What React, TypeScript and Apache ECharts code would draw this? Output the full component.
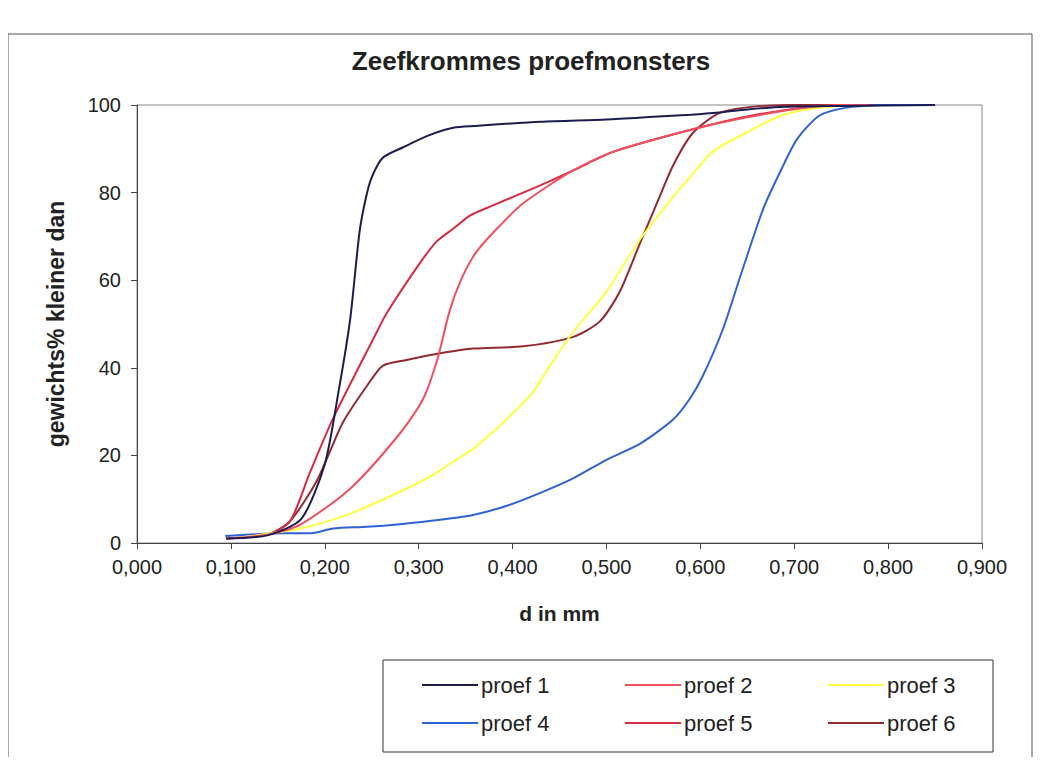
import React, { useEffect, useRef } from "react";
import * as echarts from "echarts";

const seriesNames = ["proef 1", "proef 2", "proef 3", "proef 4", "proef 5", "proef 6"];
const seriesColors = ["#1c1c50", "#f2505e", "#ffff40", "#2f62d4", "#d82a40", "#922a30"];

const proef1: number[][] = [
  [0.095, 1], [0.14, 1.8], [0.175, 5.5], [0.2, 18], [0.215, 35], [0.227, 51], [0.237, 71],
  [0.244, 79], [0.25, 83.5], [0.262, 88], [0.283, 90.3], [0.31, 93], [0.337, 94.8],
  [0.36, 95.2], [0.43, 96.2], [0.5, 96.7], [0.55, 97.3], [0.59, 97.8], [0.62, 98.3],
  [0.65, 99], [0.69, 99.6], [0.75, 99.8], [0.85, 100],
];
const proef2: number[][] = [
  [0.095, 1], [0.142, 2], [0.174, 4.2], [0.227, 12.4], [0.28, 25], [0.305, 33],
  [0.32, 42], [0.333, 53], [0.345, 60], [0.36, 66], [0.38, 71], [0.411, 77.5], [0.464, 85],
  [0.507, 89.3], [0.589, 94.3], [0.65, 97.2], [0.72, 99.6], [0.78, 100.3],
];
const proef3: number[][] = [
  [0.1, 1], [0.174, 3.3], [0.227, 6.7], [0.28, 11.7], [0.315, 15.5], [0.333, 18.1],
  [0.358, 21.5], [0.387, 26.9], [0.419, 33.7], [0.44, 40.5], [0.464, 48], [0.5, 57.4],
  [0.536, 69.4], [0.571, 79], [0.589, 83.5], [0.613, 89.3], [0.65, 93.8], [0.685, 97.5],
  [0.72, 99.2], [0.773, 100.3],
];
const proef4: number[][] = [
  [0.094, 1.6], [0.156, 2.2], [0.184, 2.2], [0.209, 3.3], [0.245, 3.7], [0.28, 4.3],
  [0.323, 5.3], [0.358, 6.4], [0.394, 8.5], [0.429, 11.4], [0.464, 14.7], [0.5, 19],
  [0.536, 22.7], [0.571, 28.2], [0.589, 33], [0.603, 38.3], [0.624, 48.8], [0.642, 60.5],
  [0.667, 76.3], [0.685, 84.7], [0.703, 92.2], [0.727, 97.6], [0.756, 99.4], [0.791, 100],
  [0.845, 100.2],
];
const proef5: number[][] = [
  [0.095, 1], [0.14, 2], [0.163, 5], [0.184, 16], [0.209, 28.5], [0.256, 48.4],
  [0.266, 52.5], [0.3, 63.5], [0.319, 68.8], [0.337, 71.8], [0.355, 74.8], [0.376, 76.8],
  [0.429, 81.6], [0.464, 85], [0.507, 89.3], [0.589, 94.3], [0.65, 97.4], [0.72, 99.6],
  [0.8, 100.3],
];
const proef6: number[][] = [
  [0.095, 1], [0.14, 2], [0.163, 5], [0.192, 14.4], [0.219, 27.4], [0.245, 35.9],
  [0.262, 40.5], [0.287, 41.8], [0.323, 43.3], [0.358, 44.4], [0.411, 44.9], [0.464, 47],
  [0.493, 50.6], [0.514, 57.3], [0.536, 68.6], [0.554, 77.7], [0.571, 86.2], [0.592, 93.6],
  [0.621, 98.2], [0.667, 99.8], [0.75, 100.1], [0.85, 100.2],
];
const seriesData = [proef1, proef2, proef3, proef4, proef5, proef6];

const xTicks = { min: 0, max: 0.9, interval: 0.1 };
const yTicks = { min: 0, max: 100, interval: 20 };

const titleText = "Zeefkrommes proefmonsters";
const xTitle = "d in mm";
const yTitle = "gewichts% kleiner dan";

export default function App() {
  const ref = useRef<HTMLDivElement>(null);
  useEffect(() => {
    if (!ref.current) return;
    const chart = echarts.init(ref.current, null, { renderer: "svg" });
    const font = "'Liberation Sans', Arial, sans-serif";
    const legendCols = [422, 625, 828];
    const legendRows = [674, 712];
    chart.setOption({
      animation: false,
      backgroundColor: "#ffffff",
      textStyle: { fontFamily: font },
      title: {
        text: titleText,
        left: 526,
        textAlign: "center",
        top: 43,
        textStyle: { fontSize: 26, fontWeight: "bold", color: "#222", fontFamily: font },
      },
      grid: {
        left: 137,
        right: 62,
        top: 105,
        bottom: 222,
        show: true,
        borderColor: "#888",
        borderWidth: 1,
        backgroundColor: "transparent",
      },
      xAxis: {
        type: "value",
        min: xTicks.min,
        max: xTicks.max,
        interval: xTicks.interval,
        name: xTitle,
        nameLocation: "middle",
        nameGap: 60,
        nameTextStyle: { fontSize: 21, fontWeight: "bold", color: "#222", fontFamily: font },
        axisLine: { lineStyle: { color: "#444", width: 1 } },
        axisTick: { show: true, length: 6, lineStyle: { color: "#444" } },
        axisLabel: {
          fontSize: 20,
          color: "#222",
          margin: 14,
          formatter: (v: number) => v.toFixed(3).replace(".", ","),
        },
        splitLine: { show: false },
      },
      yAxis: {
        type: "value",
        min: yTicks.min,
        max: yTicks.max,
        interval: yTicks.interval,
        name: yTitle,
        nameLocation: "middle",
        nameGap: 70,
        nameTextStyle: { fontSize: 23, fontWeight: "bold", color: "#222", fontFamily: font },
        axisLine: { show: true, lineStyle: { color: "#444", width: 1 } },
        axisTick: { show: true, length: 6, lineStyle: { color: "#444" } },
        axisLabel: { fontSize: 20, color: "#222", margin: 16 },
        splitLine: { show: false },
      },
      legend: seriesNames.map((n, i) => ({
        data: [n],
        left: legendCols[i % 3],
        top: legendRows[Math.floor(i / 3)],
        padding: 0,
        icon: "rect",
        itemWidth: 56,
        itemHeight: 2,
        itemGap: 0,
        selectedMode: false,
        textStyle: { fontSize: 22, color: "#222", fontFamily: font, padding: [0, 0, 0, -2] },
      })),
      graphic: [
        {
          type: "rect",
          shape: { x: 383, y: 660, width: 610, height: 92 },
          style: { fill: "none", stroke: "#333", lineWidth: 1 },
          silent: true,
        },
        {
          type: "rect",
          shape: { x: 8, y: 34, width: 1024, height: 724 },
          style: { fill: "none", stroke: "#555", lineWidth: 1 },
          silent: true,
        },
      ],
      series: seriesNames.map((n, i) => ({
        name: n,
        type: "line",
        data: seriesData[i],
        showSymbol: false,
        smooth: 0.25,
        lineStyle: { color: seriesColors[i], width: 2 },
        itemStyle: { color: seriesColors[i] },
        z: 10 - i,
      })),
    });
    return () => chart.dispose();
  }, []);
  return <div ref={ref} style={{ width: 1044, height: 765, margin: -8 }} />;
}
